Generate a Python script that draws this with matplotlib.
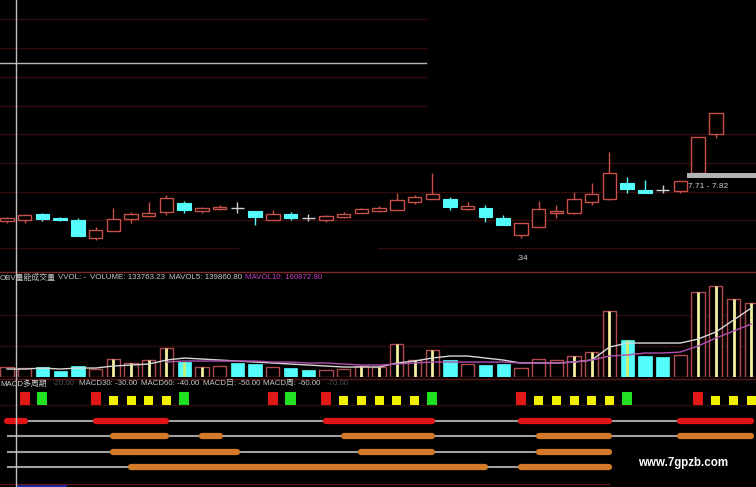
import matplotlib
matplotlib.use("Agg")
import matplotlib.pyplot as plt
from matplotlib.lines import Line2D
import numpy as np

plt.rcParams['font.family'] = ['Liberation Sans', 'Noto Sans CJK SC', 'DejaVu Sans']

# ---------------- data ----------------
opens  = [7.38, 7.39, 7.46, 7.41, 7.39, 7.19, 7.27, 7.40, 7.43, 7.48,
          7.58, 7.49, 7.51, 7.52, 7.49, 7.39, 7.46, 7.41, 7.39, 7.42,
          7.47, 7.49, 7.50, 7.59, 7.62, 7.62, 7.51, 7.52, 7.41, 7.23,
          7.31, 7.47, 7.47, 7.59, 7.62, 7.80, 7.72, 7.72, 7.71, 7.91, 8.34]
highs  = [7.42, 7.46, 7.47, 7.42, 7.41, 7.31, 7.52, 7.48, 7.59, 7.67,
          7.60, 7.53, 7.56, 7.59, 7.49, 7.50, 7.48, 7.46, 7.45, 7.48,
          7.52, 7.55, 7.69, 7.67, 7.91, 7.64, 7.59, 7.56, 7.45, 7.36,
          7.60, 7.56, 7.70, 7.80, 8.14, 7.86, 7.83, 7.78, 7.82, 8.30, 8.57]
lows   = [7.36, 7.36, 7.38, 7.38, 7.22, 7.17, 7.27, 7.36, 7.43, 7.45,
          7.47, 7.47, 7.50, 7.47, 7.34, 7.39, 7.39, 7.38, 7.37, 7.41,
          7.47, 7.48, 7.50, 7.57, 7.62, 7.50, 7.50, 7.37, 7.34, 7.19,
          7.31, 7.41, 7.46, 7.56, 7.61, 7.69, 7.69, 7.69, 7.69, 7.91, 8.29]
closes = [7.41, 7.45, 7.40, 7.39, 7.22, 7.28, 7.40, 7.46, 7.47, 7.63,
          7.50, 7.52, 7.53, 7.52, 7.42, 7.46, 7.41, 7.41, 7.43, 7.46,
          7.51, 7.52, 7.61, 7.64, 7.68, 7.53, 7.55, 7.42, 7.34, 7.36,
          7.51, 7.49, 7.62, 7.68, 7.91, 7.73, 7.69, 7.72, 7.82, 8.30, 8.57]

# volume (thousands), 43 bars
volumes = [150, 130, 145, 85, 160, 115, 265, 205, 250, 430,
           220, 145, 160, 205, 190, 145, 130, 100, 100, 115,
           160, 145, 490, 250, 400, 250, 190, 175, 190, 130,
           265, 250, 310, 370, 985, 550, 310, 295, 325, 1270,
           1360, 1165, 1105]
vol_up = [1, 1, 0, 0, 0, 1, 1, 1, 1, 1,
          0, 1, 1, 0, 0, 1, 0, 0, 1, 1,
          1, 1, 1, 1, 1, 0, 1, 0, 0, 1,
          1, 1, 1, 1, 1, 0, 0, 0, 1, 1,
          1, 1, 1]
vol_mark = [0, 0, 0, 0, 0, 0, 1, 1, 1, 1,
            2, 1, 0, 0, 0, 0, 0, 0, 0, 0,
            1, 1, 1, 1, 1, 0, 0, 0, 0, 0,
            0, 0, 1, 1, 1, 2, 0, 0, 0, 1,
            1, 1, 1]
mavol5 = [115, 115, 130, 115, 130, 130, 160, 175, 190, 250,
          280, 265, 250, 235, 220, 205, 190, 175, 160, 145,
          145, 145, 205, 235, 280, 310, 310, 280, 250, 205,
          205, 205, 220, 250, 445, 505, 505, 505, 505, 565,
          670, 850, 1030]
mavol10_start = 9
mavol10 = [220, 235, 235, 235, 235, 235, 220, 220, 205, 205,
           190, 175, 175, 190, 205, 220, 220, 220, 220, 220,
           205, 205, 205, 220, 250, 310, 325, 355, 355, 370,
           460, 580, 685, 790]

# MACD multi-period signal squares: R=red, G=green, Y=yellow
sq_idx  = [1, 2, 5, 6, 7, 8, 9, 10, 15, 16, 18, 19, 20, 21, 22, 23, 24,
           29, 30, 31, 32, 33, 34, 35, 39, 40, 41, 42]
sq_type = ['R', 'G', 'R', 'Y', 'Y', 'Y', 'Y', 'G', 'R', 'G', 'R', 'Y', 'Y', 'Y', 'Y', 'Y', 'G',
           'R', 'Y', 'Y', 'Y', 'Y', 'Y', 'G', 'R', 'Y', 'Y', 'Y']

# state segments per row (start index, end index)
row1_segs = [(0, 1), (5, 9), (18, 24), (29, 34), (38, 42)]
row2_segs = [(6, 9), (11, 12), (19, 24), (30, 34), (38, 42)]
row3_segs = [(6, 13), (20, 24), (30, 34)]
row4_segs = [(7, 27), (29, 34)]
row_extent = [(0, 42), (0, 42), (0, 34), (0, 34)]

# ---------------- figure ----------------
W, H = 756, 487
fig = plt.figure(figsize=(W / 100, H / 100), dpi=100, facecolor='black')

def fy(y):
    return 1 - y / H

XL = (-7 / 17.72, (756 - 7) / 17.72)

RED = '#c8504a'
CYAN = '#54fcfc'
GRID = '#360b0b'

# decorative panel lines (figure pixel coords)
def hline(y, x0, x1, color, lw=1.0, z=0):
    fig.add_artist(Line2D([x0 / W, x1 / W], [fy(y), fy(y)], color=color, lw=lw, zorder=z))

for y in [19, 48, 77, 106]:
    hline(y, 0, 426, GRID)
for y in [134, 163, 192, 220]:
    hline(y, 0, 756, GRID)
hline(248, 0, 238, GRID)
hline(248, 378, 756, GRID)
hline(63, 0, 426, '#b8b8b8', 1.0, 5)
hline(271.5, 0, 756, '#7a2828', 1.0)
hline(315, 0, 756, '#2e0c0c')
hline(346, 0, 756, '#2e0c0c')
hline(378.5, 0, 756, '#5a1818', 1.0)
hline(405, 0, 756, '#2a0c0c')
hline(484, 0, 610, '#5a1818', 1.0)
hline(485.5, 17, 65, '#2828a8', 2.0)

# ---- candlestick panel ----
axk = fig.add_axes([0, fy(270), 1, 270 / H])
axk.set_facecolor('none')
axk.set_xlim(*XL)
axk.set_ylim(9.811 - 0.011 * 270, 9.811)
axk.axis('off')
x = np.arange(len(opens))
o = np.array(opens); c = np.array(closes); hi = np.array(highs); lo = np.array(lows)
up = c > o
dn = c < o
dj = c == o
cw = 0.76
axk.vlines(x[up], lo[up], hi[up], color=RED, lw=1.0, zorder=2)
axk.bar(x[up], c[up] - o[up], bottom=o[up], width=cw, facecolor='black', edgecolor=RED, lw=1.0, zorder=3)
axk.vlines(x[dn], lo[dn], hi[dn], color=CYAN, lw=1.0, zorder=2)
axk.bar(x[dn], np.maximum(o[dn] - c[dn], 0.012), bottom=c[dn], width=cw, facecolor=CYAN, edgecolor=CYAN, lw=0.8, zorder=3)
axk.vlines(x[dj], lo[dj], hi[dj], color='#d0d0d0', lw=1.0, zorder=2)
axk.hlines(o[dj], x[dj] - cw / 2, x[dj] + cw / 2, color='#d0d0d0', lw=1.0, zorder=2)

# price marker bar & labels
fig.add_artist(plt.Rectangle((687 / W, fy(178)), (756 - 687) / W, 5 / H,
                             transform=fig.transFigure, facecolor='#b4b4b4', edgecolor='none', zorder=4))
fig.text(688 / W, fy(186), '7.71 - 7.82', color='#d0d0d0', fontsize=6.0, va='center', ha='left')
fig.text(516 / W, fy(258), '.34', color='#d0d0d0', fontsize=6.0, va='center', ha='left')

# ---- volume panel ----
axv = fig.add_axes([0, fy(377), 1, (377 - 270) / H])
axv.set_facecolor('none')
axv.set_xlim(*XL)
axv.set_ylim((376.7 - 377) * 15, (376.7 - 270) * 15)
axv.axis('off')
xv = np.arange(len(volumes))
v = np.array(volumes)
vu = np.array(vol_up) == 1
axv.bar(xv[vu], v[vu], width=0.75, facecolor='black', edgecolor='#b04a50', lw=1.0, zorder=2)
axv.bar(xv[~vu], v[~vu], width=0.75, facecolor=CYAN, edgecolor=CYAN, lw=0.5, zorder=2)
mk = np.array(vol_mark)
axv.vlines(xv[mk == 1], 0, v[mk == 1], color='#f4f0a0', lw=2.0, zorder=3)
axv.vlines(xv[mk == 2], 0, v[mk == 2], color='#c8f070', lw=2.0, zorder=3)
axv.plot(xv, mavol5, color='#d8d8d8', lw=1.0, zorder=4)
axv.plot(np.arange(mavol10_start, mavol10_start + len(mavol10)), mavol10, color='#b050b0', lw=1.0, zorder=4)

ty = 277.5
fs = 5.7
fig.text(0 / W, fy(ty), 'OBV量能成交量', color='#c8c8c8', fontsize=fs, va='center')
fig.text(58 / W, fy(ty), 'VVOL: -', color='#c8c8c8', fontsize=fs, va='center')
fig.text(90 / W, fy(ty), 'VOLUME: 133763.23', color='#c8c8c8', fontsize=fs, va='center')
fig.text(169 / W, fy(ty), 'MAVOL5: 139860.80', color='#c8c8c8', fontsize=fs, va='center')
fig.text(245 / W, fy(ty), 'MAVOL10: 160872.80', color='#c040c0', fontsize=fs, va='center')

# ---- MACD multi-period panel ----
axm = fig.add_axes([0, 0, 1, (H - 380) / H])
axm.set_facecolor('none')
axm.set_xlim(*XL)
axm.set_ylim(487, 380)
axm.axis('off')

sq_colors = {'R': '#e01818', 'G': '#22e022', 'Y': '#f0f000'}
for t, (wd, ht) in {'R': (0.57, 13), 'G': (0.57, 13), 'Y': (0.51, 9)}.items():
    xs = [i for i, s in zip(sq_idx, sq_type) if s == t]
    axm.bar(xs, -ht, bottom=405, width=wd, color=sq_colors[t], edgecolor='none', zorder=3)

row_y = [420.7, 436.0, 452.0, 467.5]
row_segs = [row1_segs, row2_segs, row3_segs, row4_segs]
row_cols = ['#e01414', '#d27a2a', '#d27a2a', '#d27a2a']
for ry, segs, col, ext in zip(row_y, row_segs, row_cols, row_extent):
    axm.plot(list(ext), [ry, ry], color='#a0a0a0', lw=1.5, zorder=2, solid_capstyle='butt')
    for s, e in segs:
        axm.plot([s, e], [ry, ry], color=col, lw=4.5, zorder=3, solid_capstyle='round')

my = 383.5
fig.text(0 / W, fy(my), 'MACD多周期', color='#d0d0d0', fontsize=fs, va='center')
fig.text(53 / W, fy(my), '-20.00', color='#505050', fontsize=fs, va='center')
fig.text(79 / W, fy(my), 'MACD30: -30.00', color='#c8c8c8', fontsize=fs, va='center')
fig.text(141 / W, fy(my), 'MACD60: -40.00', color='#c8c8c8', fontsize=fs, va='center')
fig.text(203 / W, fy(my), 'MACD日: -50.00', color='#c8c8c8', fontsize=fs, va='center')
fig.text(263 / W, fy(my), 'MACD周: -60.00', color='#c8c8c8', fontsize=fs, va='center')
fig.text(327 / W, fy(my), '-70.00', color='#505050', fontsize=fs, va='center')

fig.text(638 / W, fy(463), 'www.7gpzb.com', color='white', fontsize=8.3, fontweight='bold', va='center')

# crosshair vertical line
fig.add_artist(Line2D([16 / W, 16 / W], [0, 1], color='#c0c0c0', lw=1.0, zorder=6))

fig.savefig('out.png', dpi=100, facecolor='black')
